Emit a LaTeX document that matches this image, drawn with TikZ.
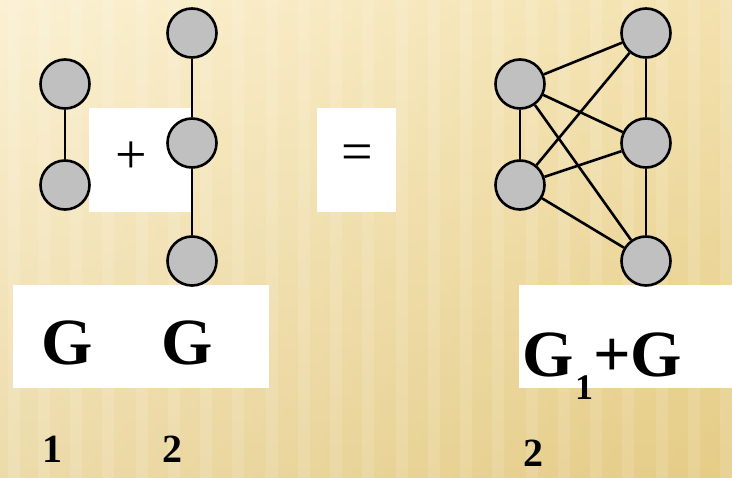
\documentclass[tikz,border=0pt]{standalone}
\usepackage{fontspec}
\setmainfont{Liberation Serif}
\usetikzlibrary{calc}
\definecolor{bglight}{HTML}{FAEBC0}
\definecolor{bgdark}{HTML}{E5CC86}
\definecolor{vgray}{HTML}{C0C0C0}
\tikzset{
  vtx/.style={circle,draw=black,line width=2.6pt,fill=vgray,minimum size=49pt,inner sep=0pt},
  edg/.style={line width=2.6pt,draw=black},
  wbox/.style={fill=white,draw=none},
  bigG/.style={font=\bfseries\fontsize{66}{66}\selectfont,inner sep=0pt,anchor=base},
  idx/.style={font=\bfseries\fontsize{40}{40}\selectfont,inner sep=0pt,anchor=base},
  opsym/.style={font=\fontsize{56}{56}\selectfont,inner sep=0pt}
}
\begin{document}
\begin{tikzpicture}[x=1pt,y=-1pt]
\useasboundingbox (0,0) rectangle (732,478);
% background
\shade[top color=bglight,bottom color=bgdark] (0,0) rectangle (732,478);
\shade[left color=white,right color=bgdark,opacity=0.3] (0,0) rectangle (732,478);
\foreach \xx in {8,38,70,102,136,168,200,232,266,298,330,362,396,428,460,492,526,558,590,622,656,688,720}{
  \fill[white,opacity=0.12] (\xx,0) rectangle ++(12,478);
}
% white boxes
\fill[wbox] (89,108) rectangle (192,212);
\fill[wbox] (317,108) rectangle (396,212);
\fill[wbox] (13,285) rectangle (269,388);
\fill[wbox] (519,285) rectangle (732,388);
% operators
\node[opsym] (plus) at (131,158) {+};
\node[opsym] (eq) at (357,158) {=};
% G1
\node[vtx] (a1) at (65,84) {};
\node[vtx] (a2) at (65,185) {};
\draw[edg] (a1) -- (a2);
% G2
\node[vtx] (b1) at (192,33) {};
\node[vtx] (b2) at (192,143) {};
\node[vtx] (b3) at (192,261) {};
\draw[edg] (b1) -- (b2);
\draw[edg] (b2) -- (b3);
% join
\node[vtx] (c1) at (520,84) {};
\node[vtx] (c2) at (520,185) {};
\node[vtx] (d1) at (646,33) {};
\node[vtx] (d2) at (646,143) {};
\node[vtx] (d3) at (646,261) {};
\draw[edg] (c1) -- (c2);
\draw[edg] (d1) -- (d2);
\draw[edg] (d2) -- (d3);
\foreach \u in {c1,c2}{
  \foreach \v in {d1,d2,d3}{
    \draw[edg] (\u) -- (\v);
  }
}
% labels
\node[bigG] (g1) at (67,365) {G};
\node[bigG] (g2) at (187,365) {G};
\node[idx] (n1) at (52,463) {1};
\node[idx] (n2) at (172,463) {2};
\node[bigG,anchor=base west] (gj) at (522,377) {G};
\node[idx,anchor=base west,font=\bfseries\fontsize{36}{36}\selectfont] (gjs) at (575,400) {1};
\node[bigG,anchor=base west] (gjp) at (593,377) {+G};
\node[idx] (n3) at (533,467) {2};
\end{tikzpicture}
\end{document}
